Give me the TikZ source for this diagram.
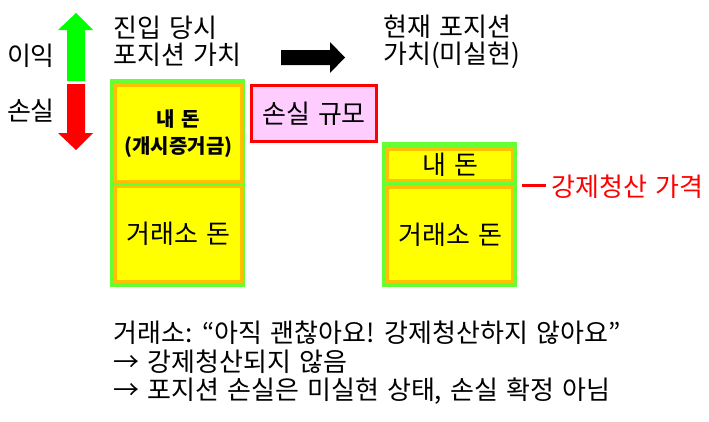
\documentclass[tikz,border=0pt]{standalone}
\usepackage{fontspec}
\setmainfont[WordSpace=1.4]{Noto Sans CJK KR}
\definecolor{boxgreen}{HTML}{66FF33}
\definecolor{boxyellow}{HTML}{FFFF00}
\definecolor{boxorange}{HTML}{FFC000}
\definecolor{losspink}{HTML}{FFCCFF}
\definecolor{arrgreen}{HTML}{00FF00}
\definecolor{arrred}{HTML}{FF0000}
\tikzset{
  outerbox/.style={fill=boxgreen, draw=none, inner sep=0pt},
  innerbox/.style={fill=boxyellow, draw=boxorange, line width=2.25pt, inner sep=0pt, align=center},
  losbox/.style={fill=losspink, draw=red, line width=2.25pt, inner sep=0pt, align=center},
  bigfont/.style={font=\fontsize{19.5}{20.25}\selectfont},
  txt/.style={inner sep=0pt, bigfont},
  hdr/.style={inner sep=0pt, anchor=west, align=left, bigfont},
}
\begin{document}
\begin{tikzpicture}[x=0.75pt,y=-0.75pt]
\useasboundingbox (0,0) rectangle (709,421);
% profit / loss arrows
\fill[arrgreen] (67,81) -- (85,81) -- (85,30) -- (93,30) -- (76,13) -- (58,30) -- (67,30) -- cycle;
\fill[arrred] (67,84) -- (85,84) -- (85,133) -- (93,133) -- (76,150) -- (58,133) -- (67,133) -- cycle;
\node[txt] (profit) at (31,56) {이익};
\node[txt] (loss) at (31,111) {손실};
% headers
\node[hdr] (hleft) at (113,41.5) {진입 당시\\포지션 가치};
\node[hdr] (hright) at (383,41.5) {현재 포지션\\가치(미실현)};
\fill[black] (281,50) -- (330,50) -- (330,42) -- (345,57.5) -- (330,73) -- (330,65) -- (281,65) -- cycle;
% left stack
\node[outerbox, minimum width=101.25pt, minimum height=156pt] (lout) at (177.5,183) {};
\node[innerbox, minimum width=94.5pt, minimum height=72pt, font=\bfseries\fontsize{15}{20}\selectfont] (lmy) at (178.5,133.5) {내 돈\\(개시증거금)};
\node[innerbox, minimum width=94.5pt, minimum height=71.25pt, bigfont] (lex) at (178.5,234) {거래소 돈};
% loss size
\node[losbox, minimum width=93.75pt, minimum height=42pt, bigfont] (lsize) at (314,113.5) {손실 규모};
% right stack
\node[outerbox, minimum width=101.25pt, minimum height=108.75pt] (rout) at (449.5,214.5) {};
\node[innerbox, minimum width=93.4pt, minimum height=23.25pt, bigfont] (rmy) at (450.25,165) {내 돈};
\node[innerbox, minimum width=93.4pt, minimum height=70.5pt, bigfont] (rex) at (450.25,234.5) {거래소 돈};
% liquidation price
\node[txt, anchor=west, text=red] (liq) at (551,187) {강제청산 가격};
\coordinate (liqstart) at (522,185);
\coordinate (liqend) at (546,185);
\draw[red, line width=2.25pt] (liqstart) -- (liqend);
% bottom text
\node[inner sep=0pt, anchor=west, align=left, font=\fontsize{19.5}{21.4}\selectfont] (note) at (113,363) {거래소: “아직 괜찮아요! 강제청산하지 않아요”\\→ 강제청산되지 않음\\→ 포지션 손실은 미실현 상태, 손실 확정 아님};
\end{tikzpicture}
\end{document}
